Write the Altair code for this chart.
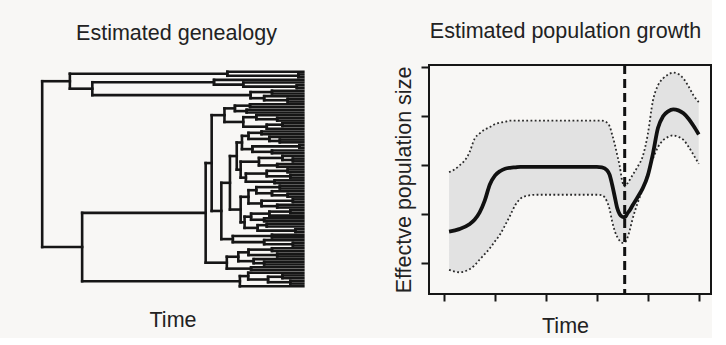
import altair as alt
import pandas as pd

FONT = "Liberation Sans"
INK = "#161616"
TXT = "#222222"

# ---------------- right panel: population growth ----------------
TIME = [0.10, 0.30, 0.50, 0.60, 0.70, 0.80, 0.90, 1.00, 1.10, 1.20, 1.30, 1.40, 1.50, 1.60,
        1.80, 2.20, 2.60, 3.00, 3.10, 3.20, 3.25, 3.30, 3.35, 3.40, 3.45, 3.50, 3.55, 3.60,
        3.65, 3.70, 3.80, 3.90, 4.00, 4.10, 4.20, 4.30, 4.40, 4.50, 4.60, 4.70, 4.80, 4.90, 5.00]
MEAN = [1.64, 1.69, 1.79, 1.88, 2.03, 2.27, 2.60, 2.78, 2.87, 2.92, 2.94, 2.95, 2.96, 2.96,
        2.96, 2.96, 2.96, 2.96, 2.95, 2.89, 2.80, 2.60, 2.36, 2.12, 1.99, 1.94, 1.93, 2.01,
        2.08, 2.17, 2.34, 2.52, 2.78, 3.22, 3.75, 3.99, 4.09, 4.13, 4.11, 4.05, 3.94, 3.79, 3.62]
UPPER = [2.85, 2.98, 3.25, 3.53, 3.64, 3.72, 3.77, 3.83, 3.86, 3.88, 3.90, 3.90, 3.90, 3.90,
         3.90, 3.90, 3.90, 3.90, 3.90, 3.86, 3.79, 3.62, 3.43, 3.20, 2.97, 2.66, 2.56, 2.62,
         2.70, 2.79, 2.96, 3.17, 3.62, 4.30, 4.62, 4.76, 4.84, 4.88, 4.85, 4.76, 4.60, 4.41, 4.28]
LOWER = [0.86, 0.81, 0.87, 0.95, 1.07, 1.18, 1.30, 1.44, 1.58, 1.77, 1.97, 2.18, 2.31, 2.36,
         2.39, 2.39, 2.39, 2.39, 2.38, 2.25, 2.10, 1.85, 1.66, 1.53, 1.45, 1.41, 1.42, 1.51,
         1.68, 1.89, 2.22, 2.50, 2.82, 3.12, 3.36, 3.50, 3.57, 3.60, 3.57, 3.51, 3.37, 3.20, 3.02]
SPLIT_TIME = [3.547]
X_TICKS = [0, 1, 2, 3, 4, 5]
Y_TICKS = [1, 2, 3, 4, 5]

# ---------------- left panel: genealogy (Newick-like, internal labels = node ages) -------
CLADE_A = "((t,(t,t)1.9)29.1,((t,(t,(t,t)2.5)23.0)34.2,((t,t)12,(t,(t,t)6)15)20.2)80.8)89.4"
CLADE_U1 = "(((t,t)20.4,(t,t)21.7)26.2,((t,(t,t)10)18,((t,t)8,t)14)23)30.2"
CLADE_U2A1 = ("((((t,t)16,(t,(t,t)9)13)21,((t,t)1.5,(t,t)12)19.5)23.5,"
              "(((t,(t,t)4)8,(t,t)10)17,(((t,t)6,(t,t)5)14,(t,t)11)22)24)25.5")
CLADE_U2A2 = ("((((t,t)9,(t,(t,t)6)12)18,((t,t)4,(t,t)10)16)21,"
              "((((t,t)5,t)13,(t,t)15)20,((t,t)14,(t,t)3)17.5)22.5)24")
CLADE_U2B = "((t,t)12,(t,(t,t)4)15)27"
CLADE_L = "((((t,t)12,(t,t)10)21,(t,(t,t)15)19)24.9,(t,t)20)29.3"
CLADE_B2 = "((t,((t,t)8,(t,t)5)13.5)21.1,t)24.3"
AGE_U2A, AGE_U2, AGE_U, AGE_B1, AGE_B, AGE_ROOT = 28.1, 31.4, 35.1, 37.4, 84.7, 100

TREE = (f"({CLADE_A},((({CLADE_U1},(({CLADE_U2A1},{CLADE_U2A2}){AGE_U2A},{CLADE_U2B}){AGE_U2})"
        f"{AGE_U},{CLADE_L}){AGE_B1},{CLADE_B2}){AGE_B}){AGE_ROOT}")


def parse(s, i=0):
    if s[i] == "t":
        return {"age": 0.0, "kids": []}, i + 1
    kids = []
    i += 1
    while True:
        k, i = parse(s, i)
        kids.append(k)
        if s[i] == ",":
            i += 1
            continue
        i += 1
        break
    j = i
    while j < len(s) and (s[j].isdigit() or s[j] == "."):
        j += 1
    return {"age": float(s[i:j]), "kids": kids}, j


root, _ = parse(TREE)
counter = [0]


def layout(n):
    if not n["kids"]:
        n["y"] = counter[0]
        counter[0] += 1
    else:
        for k in n["kids"]:
            layout(k)
        n["y"] = (n["kids"][0]["y"] + n["kids"][-1]["y"]) / 2


layout(root)
rows = []


def segs(n):
    if n["kids"]:
        rows.append(dict(x=n["age"], x2=n["age"], y=n["kids"][0]["y"], y2=n["kids"][-1]["y"]))
        for k in n["kids"]:
            rows.append(dict(x=n["age"], x2=k["age"], y=k["y"], y2=k["y"]))
            segs(k)


segs(root)
tree_df = pd.DataFrame(rows)

TITLE_SIZE = 21.5
title_common = dict(fontSize=TITLE_SIZE, font=FONT, fontWeight="normal", color=TXT,
                    baseline="alphabetic", offset=4, anchor="middle")
axis_title = dict(titleFontSize=TITLE_SIZE, titleFont=FONT, titleFontWeight="normal",
                  titleColor=TXT, titleBaseline="alphabetic")

tree = alt.Chart(tree_df).mark_rule(color=INK, strokeWidth=2.6, strokeCap="square").encode(
    x=alt.X("x:Q", scale=alt.Scale(domain=[-6.0, 106.2], reverse=True, nice=False, zero=False),
            axis=alt.Axis(title="Time", domain=False, ticks=False, labels=False, grid=False,
                          titleX=146.5, titleY=32, **axis_title)),
    x2="x2:Q",
    y=alt.Y("y:Q", scale=alt.Scale(domain=[-2.47, 81.84], reverse=True, nice=False, zero=False),
            axis=None),
    y2="y2:Q",
).properties(width=293, height=229,
             title=alt.TitleParams(text="Estimated genealogy", dx=4, **title_common),
             view=alt.ViewBackground(strokeOpacity=0))

pop_df = pd.DataFrame({"time": TIME, "mean": MEAN, "upper": UPPER, "lower": LOWER})
xsc = alt.Scale(domain=[-0.294, 5.241], nice=False, zero=False)
ysc = alt.Scale(domain=[0.367, 5.035], nice=False, zero=False)
xaxis = alt.Axis(title="Time", values=X_TICKS, domain=False, labels=False, grid=False,
                 tickSize=7, tickWidth=2, tickColor=INK, titleX=136, titleY=38, **axis_title)
yaxis = alt.Axis(title="Effectve population size", values=Y_TICKS, domain=False, labels=False,
                 grid=False, tickSize=8, tickWidth=2, tickColor=INK,
                 titleAngle=270, titleX=-19, titleY=114.5, **axis_title)

base = alt.Chart(pop_df)
band = base.mark_area(color="#e2e2e2", interpolate="monotone").encode(
    x=alt.X("time:Q", scale=xsc, axis=xaxis),
    y=alt.Y("lower:Q", scale=ysc, axis=yaxis),
    y2="upper:Q",
)
up = base.mark_line(color="#2a2a2a", strokeWidth=1.8, strokeDash=[1.8, 2.4],
                    interpolate="monotone").encode(
    x=alt.X("time:Q", scale=xsc, axis=xaxis), y=alt.Y("upper:Q", scale=ysc, axis=yaxis))
lo = base.mark_line(color="#2a2a2a", strokeWidth=1.8, strokeDash=[1.8, 2.4],
                    interpolate="monotone").encode(
    x=alt.X("time:Q", scale=xsc, axis=xaxis), y=alt.Y("lower:Q", scale=ysc, axis=yaxis))
mean = base.mark_line(color="#111111", strokeWidth=3.8, interpolate="monotone").encode(
    x=alt.X("time:Q", scale=xsc, axis=xaxis), y=alt.Y("mean:Q", scale=ysc, axis=yaxis))
vline = alt.Chart(pd.DataFrame({"t": SPLIT_TIME})).mark_rule(
    color="#111111", strokeWidth=3, strokeDash=[9, 5]).encode(
    x=alt.X("t:Q", scale=xsc, axis=xaxis))

growth = alt.layer(band, up, lo, mean, vline).properties(
    width=282, height=229,
    title=alt.TitleParams(text="Estimated population growth", dx=-4.5, **title_common),
    view=alt.ViewBackground(stroke=INK, strokeWidth=2),
)

chart = alt.hconcat(tree, growth, spacing=110, bounds="flush").properties(
    background="#f8f7f5",
    padding={"left": 26, "top": 20, "right": 0, "bottom": 0},
)

chart.save("out.html", embed_options={"renderer": "svg", "actions": False})
